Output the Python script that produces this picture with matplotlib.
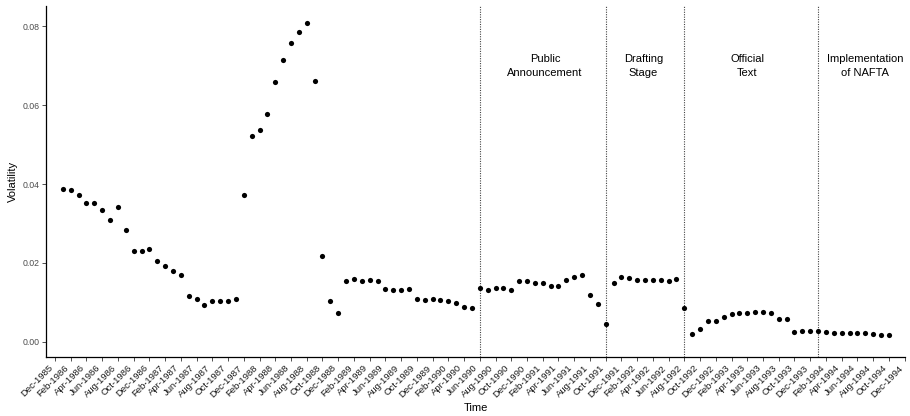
import numpy as np
import pandas as pd
import matplotlib
matplotlib.use("Agg")
import matplotlib.pyplot as plt

plt.rcParams['font.family'] = ['Liberation Sans', 'DejaVu Sans']

# monthly volatility, Jan-1986 .. Oct-1994
start = "1986-01"
volatility = [
    0.0387, 0.0385, 0.0371, 0.0353, 0.0353, 0.0334, 0.0308, 0.0342, 0.0284, 0.0229,
    0.0231, 0.0235, 0.0204, 0.0193, 0.0180, 0.0168, 0.0115, 0.0107, 0.0094, 0.0104,
    0.0104, 0.0104, 0.0108, 0.0373, 0.0521, 0.0537, 0.0579, 0.0660, 0.0714, 0.0758,
    0.0785, 0.0809, 0.0662, 0.0217, 0.0102, 0.0072, 0.0155, 0.0158, 0.0155, 0.0157,
    0.0155, 0.0133, 0.0131, 0.0131, 0.0134, 0.0109, 0.0106, 0.0108, 0.0105, 0.0102,
    0.0099, 0.0088, 0.0086, 0.0135, 0.0131, 0.0137, 0.0137, 0.0131, 0.0153, 0.0153,
    0.0148, 0.0149, 0.0142, 0.0141, 0.0157, 0.0164, 0.0169, 0.0118, 0.0096, 0.0044,
    0.0149, 0.0164, 0.0162, 0.0157, 0.0157, 0.0156, 0.0156, 0.0155, 0.0158, 0.0086,
    0.0018, 0.0033, 0.0053, 0.0052, 0.0063, 0.0069, 0.0073, 0.0073, 0.0076, 0.0076,
    0.0073, 0.0056, 0.0057, 0.0025, 0.0028, 0.0026, 0.0026, 0.0025, 0.0022, 0.0022,
    0.0022, 0.0022, 0.0022, 0.0020, 0.0017, 0.0017,
]

# stages of the agreement: dividing dates and labels
event_dates = ["1990-06", "1991-10", "1992-08", "1994-01"]
stage_labels = ["Public\nAnnouncement", "Drafting\nStage", "Official\nText", "Implementation\nof NAFTA"]
stage_centres = ["1991-02", "1992-02", "1993-04", "1994-07"]
stage_offsets = [0.3, 0.8, 0.0, 0.0]

tick_dates = pd.date_range("1985-12-01", "1994-12-01", freq="2MS")
tick_labels = tick_dates.strftime("%b-%Y")

origin = pd.Period("1985-12", freq="M")
def month_index(s):
    return (pd.Period(s, freq="M") - origin).n

x = month_index(start) + np.arange(len(volatility))
ticks = [month_index(d.strftime("%Y-%m")) for d in tick_dates]

fig = plt.figure(figsize=(9.1, 4.16), dpi=100)
ax = fig.add_axes([0.0509, 0.143, 0.9436, 0.8426])

for d in event_dates:
    ax.axvline(month_index(d), color="#444444", linestyle=(0, (1, 1.2)), linewidth=0.8, zorder=1)

ax.scatter(x, volatility, s=14, color="black", linewidths=0, zorder=3)

for lab, c, off in zip(stage_labels, stage_centres, stage_offsets):
    ax.text(month_index(c) + off, 0.0699, lab, ha="center", va="center",
            fontsize=8, linespacing=1.45, color="black")

ax.set_xlim(-1.1, 108.05)
ax.set_ylim(-0.0038, 0.0852)
ax.set_xticks(ticks)
ax.set_xticklabels(tick_labels, rotation=45, ha="right", fontsize=6.8, color="#1a1a1a")
ax.set_yticks([0.0, 0.02, 0.04, 0.06, 0.08])
ax.set_yticklabels(["0.00", "0.02", "0.04", "0.06", "0.08"], fontsize=6.3, color="#4d4d4d")
ax.tick_params(axis="both", length=3, width=0.6, color="#333333", pad=2)

for side in ["top", "right"]:
    ax.spines[side].set_visible(False)
for side in ["left", "bottom"]:
    ax.spines[side].set_linewidth(0.9)

ax.set_xlabel("Time", fontsize=8, labelpad=3)
ax.set_ylabel("Volatility", fontsize=8, labelpad=3)

fig.savefig("out.png", dpi=100)
